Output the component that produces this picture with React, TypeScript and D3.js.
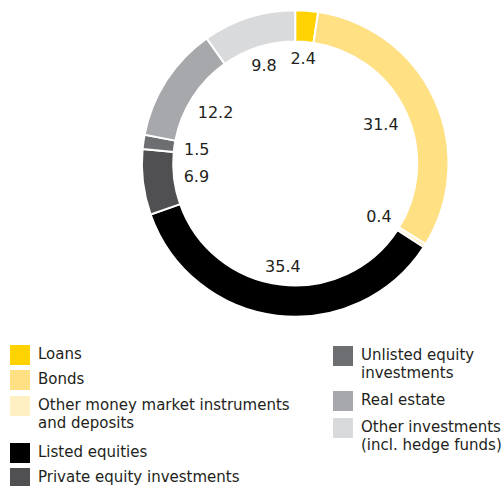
import React from 'react';
import * as d3 from 'd3';

const categories = [
  'Loans',
  'Bonds',
  'Other money market instruments and deposits',
  'Listed equities',
  'Private equity investments',
  'Unlisted equity investments',
  'Real estate',
  'Other investments (incl. hedge funds)',
];
const values = [2.4, 31.4, 0.4, 35.4, 6.9, 1.5, 12.2, 9.8];
const colors = ['#FFD200', '#FFE083', '#FFF0C4', '#000000', '#505052', '#6D6E71', '#A7A8AB', '#D9DADB'];

// legend text broken into lines, as in the original
const legendLines = [
  ['Loans'],
  ['Bonds'],
  ['Other money market instruments', 'and deposits'],
  ['Listed equities'],
  ['Private equity investments'],
  ['Unlisted equity', 'investments'],
  ['Real estate'],
  ['Other investments', '(incl. hedge funds)'],
];

const W = 501;
const H = 486;
const cx = 295.2;
const cy = 163.5;
const outerR = 153.3;
const innerR = 122;
const labelBoxR = 113; // labels sit so their box stays inside this circle
const labelSize = 16;
const font = '"DejaVu Sans", sans-serif';

// legend layout: [x of swatch, y of swatch top] per item
const legendPos: [number, number][] = [
  [10, 345], [10, 370], [10, 396], [10, 443], [10, 468],
  [333, 346], [333, 391], [333, 418],
];

// rough DejaVu Sans metrics for the number labels
const textWidth = (s: string) =>
  s.split('').reduce((w, ch) => w + (ch === '.' ? 0.318 : 0.636), 0) * labelSize;
const digitH = 0.729 * labelSize;

const App: React.FC = () => {
  const pie = d3.pie<number>().sort(null).value(d => d);
  const arcs = pie(values);
  const arc = d3.arc<d3.PieArcDatum<number>>().innerRadius(innerR).outerRadius(outerR);

  return (
    <svg width={W} height={H} style={{ position: 'absolute', left: 0, top: 0 }} fontFamily={font}>
      <g transform={`translate(${cx},${cy})`}>
        {arcs.map((a, i) => (
          <path key={categories[i]} d={arc(a) || ''} fill={colors[i]} stroke="#fff" strokeWidth={2} />
        ))}
        {arcs.map((a, i) => {
          const label = values[i].toFixed(1);
          const ang = (a.startAngle + a.endAngle) / 2;
          const ux = Math.sin(ang);
          const uy = -Math.cos(ang);
          const ox = Math.sign(ux) * textWidth(label) / 2;
          const oy = Math.sign(uy) * digitH / 2;
          const dot = ux * ox + uy * oy;
          const r = -dot + Math.sqrt(dot * dot - (ox * ox + oy * oy) + labelBoxR * labelBoxR);
          const x = r * ux;
          const y = r * uy;
          return (
            <text key={'l' + i} x={x} y={y + digitH / 2} textAnchor="middle"
              fontSize={labelSize} fill="#231f20">
              {label}
            </text>
          );
        })}
      </g>
      {legendLines.map((lines, i) => {
        const [x, y] = legendPos[i];
        return (
          <g key={'lg' + i}>
            <rect x={x} y={y} width={20} height={20} fill={colors[i]} />
            {lines.map((t, j) => (
              <text key={j} x={x + 28} y={y + 14 + j * 18.3} fontSize={15} fill="#231f20">{t}</text>
            ))}
          </g>
        );
      })}
    </svg>
  );
};

export default App;
